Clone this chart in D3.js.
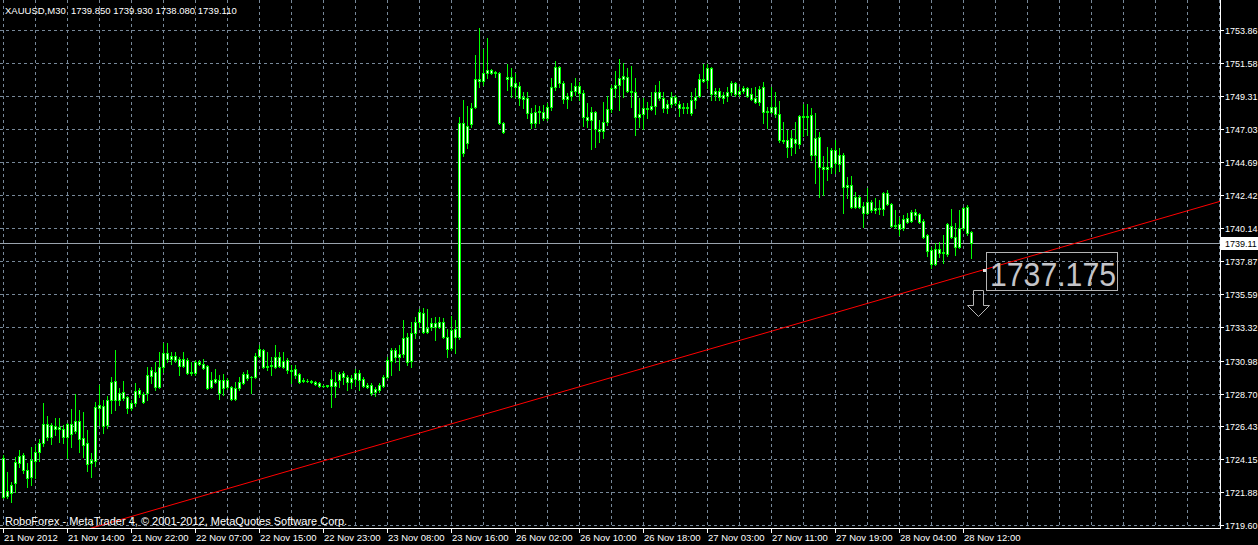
<!DOCTYPE html>
<html><head><meta charset="utf-8">
<script src="https://cdn.jsdelivr.net/npm/d3@7/dist/d3.min.js"></script>
<style>html,body{margin:0;padding:0;background:#000;overflow:hidden}svg{display:block}</style>
</head><body><svg id="c" width="1258" height="545"></svg>
<script>
// ---------- DATA ----------
const titleText = "XAUUSD,M30  1739.850 1739.930 1738.080 1739.110";
const copyrightText = "RoboForex - MetaTrader 4, \u00a9 2001-2012, MetaQuotes Software Corp.";
const timeLabels = ["21 Nov 2012","21 Nov 14:00","21 Nov 22:00","22 Nov 07:00","22 Nov 15:00","22 Nov 23:00","23 Nov 08:00","23 Nov 16:00","26 Nov 02:00","26 Nov 10:00","26 Nov 18:00","27 Nov 03:00","27 Nov 11:00","27 Nov 19:00","28 Nov 04:00","28 Nov 12:00"];
const barsPerLabel = 16;
const barsPerGrid = 8;
const priceTicks = [1753.86,1751.58,1749.31,1747.03,1744.69,1742.42,1740.14,1737.87,1735.59,1733.32,1730.98,1728.70,1726.43,1724.15,1721.88,1719.60];
const bidPrice = 1739.11;
const trendAnchors = [[26,1719.70],[304,1741.98]]; // [bar index, price]
const labelBar = 245;
const labelValue = "1737.175";
// [open, high, low, close] per M30 bar
const candles = [
[1724.25,1724.45,1721.48,1721.55],[1721.62,1723.27,1721.48,1721.97],[1721.83,1722.58,1721.20,1722.38],[1722.52,1724.31,1721.89,1723.96],[1723.90,1724.80,1723.62,1724.38],
[1724.45,1724.59,1723.20,1723.41],[1723.41,1723.90,1722.24,1722.86],[1722.93,1725.00,1722.38,1724.10],[1724.03,1725.14,1722.86,1724.66],[1724.66,1725.56,1724.03,1725.28],
[1725.28,1728.05,1725.07,1726.59],[1726.59,1727.14,1725.49,1725.70],[1725.70,1726.66,1725.21,1726.52],[1726.45,1727.01,1725.83,1726.25],[1726.25,1727.01,1725.35,1726.39],
[1726.25,1726.52,1725.28,1725.70],[1725.70,1726.66,1724.25,1726.59],[1726.59,1727.64,1725.00,1725.90],[1726.11,1728.67,1725.97,1726.80],[1726.80,1727.56,1724.66,1725.56],
[1725.63,1727.42,1724.31,1725.14],[1725.28,1726.18,1723.34,1723.82],[1723.90,1724.59,1722.93,1724.10],[1724.03,1728.12,1723.68,1727.78],[1727.70,1729.29,1726.52,1727.91],
[1727.84,1728.26,1725.97,1726.45],[1726.52,1728.54,1726.32,1728.26],[1728.26,1729.85,1727.35,1729.50],[1729.57,1731.72,1727.56,1728.26],[1728.26,1729.09,1727.91,1728.74],
[1728.81,1729.57,1728.26,1728.40],[1728.46,1728.54,1727.35,1727.70],[1727.70,1728.26,1727.56,1728.05],[1728.05,1729.43,1727.84,1728.88],[1728.95,1729.09,1728.46,1728.67],
[1728.67,1728.81,1728.05,1728.12],[1728.74,1730.55,1728.26,1729.98],[1729.92,1730.55,1729.43,1730.33],[1730.19,1730.89,1728.95,1729.16],[1729.16,1731.58,1729.09,1730.55],
[1730.55,1732.20,1730.19,1731.51],[1731.51,1732.20,1730.89,1731.10],[1731.10,1731.58,1730.75,1731.31],[1731.31,1731.58,1730.89,1731.03],[1731.10,1731.24,1729.98,1730.62],
[1730.62,1731.58,1730.55,1731.10],[1731.03,1731.17,1730.05,1730.12],[1730.12,1730.89,1729.98,1730.19],[1730.12,1731.03,1729.98,1730.89],[1730.89,1731.03,1730.68,1730.75],
[1730.75,1731.10,1730.40,1730.47],[1730.62,1730.68,1729.02,1729.09],[1729.16,1730.19,1729.09,1729.64],[1729.50,1730.40,1729.43,1729.71],[1729.64,1729.98,1728.33,1728.74],
[1729.09,1730.05,1728.60,1729.64],[1729.64,1729.78,1729.02,1729.16],[1729.16,1729.23,1728.26,1728.33],[1728.33,1729.50,1728.26,1729.09],[1729.09,1729.85,1728.95,1729.50],
[1729.43,1730.19,1729.36,1730.05],[1730.05,1730.33,1729.64,1729.78],[1729.85,1729.92,1728.74,1729.82],[1729.85,1731.51,1729.78,1731.31],[1731.31,1732.06,1731.24,1731.79],
[1731.72,1731.79,1730.47,1730.55],[1730.55,1731.58,1730.33,1730.62],[1730.62,1731.24,1729.98,1730.68],[1730.55,1732.06,1730.47,1731.24],[1731.24,1731.58,1730.55,1730.62],
[1730.55,1731.58,1730.47,1730.96],[1731.03,1731.17,1730.12,1730.33],[1730.33,1730.68,1729.43,1730.26],[1730.40,1730.68,1729.78,1729.98],[1730.05,1730.12,1729.43,1729.50],
[1729.64,1729.78,1729.50,1729.57],[1729.57,1729.71,1729.50,1729.57],[1729.57,1729.64,1729.43,1729.50],[1729.50,1729.57,1729.29,1729.36],[1729.43,1729.50,1729.16,1729.23],
[1729.23,1729.29,1729.16,1729.23],[1729.23,1729.29,1729.16,1729.29],[1729.23,1730.33,1727.78,1729.71],[1729.50,1730.19,1728.46,1729.23],[1729.64,1730.19,1729.16,1730.05],
[1729.85,1730.26,1729.36,1730.12],[1729.85,1729.98,1728.95,1729.50],[1729.50,1729.98,1729.09,1729.78],[1729.71,1730.40,1729.29,1730.12],[1730.12,1730.33,1728.95,1729.64],
[1729.71,1729.85,1729.16,1729.23],[1729.29,1729.43,1729.09,1729.16],[1729.29,1729.43,1728.60,1728.74],[1728.81,1729.16,1728.54,1729.02],[1728.95,1729.43,1728.81,1729.29],
[1729.23,1729.98,1729.16,1729.85],[1729.85,1731.24,1729.78,1731.03],[1730.96,1731.86,1729.98,1731.72],[1731.72,1731.86,1730.89,1731.24],[1731.24,1732.06,1730.33,1731.44],
[1731.44,1733.79,1731.24,1732.55],[1732.62,1732.90,1730.68,1730.89],[1730.96,1733.65,1730.55,1732.90],[1732.90,1733.99,1732.55,1733.65],[1733.65,1734.56,1733.31,1734.35],
[1734.28,1734.63,1732.90,1732.97],[1732.97,1734.56,1732.90,1733.24],[1733.31,1733.93,1733.10,1733.58],[1733.58,1733.99,1732.41,1733.31],[1733.31,1733.99,1733.24,1733.65],
[1733.65,1733.93,1732.55,1732.62],[1732.62,1733.17,1731.24,1731.79],[1731.86,1734.07,1731.72,1733.10],[1733.17,1733.79,1731.51,1732.62],[1732.62,1747.84,1732.48,1747.42],
[1747.42,1749.02,1745.14,1745.35],[1746.04,1748.60,1745.70,1747.21],[1747.36,1748.81,1747.15,1748.47],[1748.54,1752.13,1748.47,1750.47],[1750.47,1754.00,1749.92,1750.33],
[1750.33,1752.55,1750.06,1750.89],[1750.89,1753.31,1750.54,1751.10],[1751.10,1751.17,1750.82,1750.89],[1750.96,1751.03,1750.61,1750.89],[1750.89,1750.96,1747.36,1747.42],
[1747.42,1747.49,1746.73,1746.80],[1750.47,1751.51,1749.71,1750.61],[1750.61,1751.24,1749.22,1749.99],[1750.19,1750.89,1749.22,1749.92],[1749.99,1750.26,1748.67,1749.15],
[1749.22,1749.57,1748.47,1749.08],[1749.15,1749.57,1747.78,1748.12],[1748.12,1748.47,1747.08,1747.42],[1747.42,1748.67,1747.15,1748.19],[1748.19,1748.60,1747.42,1748.26],
[1748.19,1748.67,1747.63,1747.78],[1747.78,1748.81,1747.63,1748.53],[1748.53,1750.54,1748.33,1749.92],[1749.92,1751.72,1749.71,1751.31],[1751.31,1751.38,1749.92,1750.19],
[1750.19,1750.33,1748.81,1749.08],[1749.08,1749.50,1748.47,1749.29],[1749.29,1750.19,1749.02,1749.64],[1749.64,1750.54,1749.36,1749.99],[1749.99,1750.26,1749.02,1749.50],
[1749.50,1749.71,1747.21,1747.84],[1747.84,1748.81,1747.15,1747.63],[1747.63,1748.54,1745.63,1748.19],[1748.19,1748.26,1745.77,1747.01],[1747.01,1747.63,1746.11,1746.87],
[1746.87,1748.88,1746.39,1747.49],[1747.49,1749.29,1747.29,1748.40],[1748.40,1750.06,1748.19,1749.85],[1749.85,1751.03,1749.22,1750.06],[1750.06,1751.86,1748.33,1750.54],
[1750.47,1751.58,1749.22,1750.68],[1750.61,1751.24,1749.57,1749.64],[1749.64,1751.38,1748.54,1749.57],[1749.57,1750.54,1746.59,1747.84],[1747.84,1749.15,1747.15,1748.05],
[1748.05,1749.15,1747.01,1748.47],[1748.47,1748.88,1747.78,1748.40],[1748.40,1749.57,1748.33,1748.60],[1748.60,1750.06,1748.05,1749.57],[1749.57,1750.33,1749.02,1749.15],
[1749.15,1749.57,1748.19,1748.47],[1748.47,1749.02,1748.12,1748.74],[1748.74,1749.57,1748.54,1749.22],[1749.22,1749.36,1748.67,1748.81],[1748.74,1748.95,1747.91,1748.47],
[1748.47,1748.81,1748.12,1748.54],[1748.54,1748.81,1748.12,1748.47],[1748.12,1749.57,1747.98,1749.02],[1749.02,1749.85,1748.47,1749.22],[1749.29,1750.82,1749.22,1750.47],
[1750.47,1751.51,1750.26,1750.33],[1750.40,1751.51,1749.85,1751.24],[1751.24,1751.31,1749.02,1749.43],[1749.43,1749.85,1749.02,1749.64],[1749.64,1749.85,1749.02,1749.22],
[1749.36,1749.57,1748.81,1749.15],[1749.29,1749.92,1748.95,1749.57],[1749.57,1750.33,1749.36,1750.19],[1750.19,1750.26,1749.29,1749.43],[1749.43,1749.92,1749.29,1749.64],
[1749.64,1749.99,1749.50,1749.85],[1749.85,1749.92,1749.22,1749.29],[1749.43,1749.85,1749.02,1749.08],[1749.15,1749.92,1748.81,1748.88],[1748.88,1749.99,1748.67,1749.78],
[1749.92,1750.26,1747.42,1748.19],[1748.19,1748.54,1747.08,1748.26],[1748.19,1749.92,1748.12,1748.54],[1748.54,1749.57,1747.84,1748.05],[1748.05,1748.95,1746.11,1746.25],
[1746.25,1747.49,1746.04,1746.18],[1746.25,1746.94,1745.07,1745.77],[1745.77,1746.94,1745.21,1746.39],[1746.32,1747.49,1745.35,1746.04],[1745.97,1747.98,1745.70,1747.91],
[1747.91,1748.74,1746.53,1747.84],[1747.84,1748.74,1746.59,1747.91],[1747.98,1748.47,1744.87,1745.21],[1745.21,1748.12,1743.27,1746.39],[1746.46,1746.80,1742.31,1744.39],
[1744.39,1745.14,1742.45,1744.25],[1744.25,1745.77,1743.48,1744.39],[1744.39,1745.70,1743.97,1745.56],[1745.56,1746.25,1743.97,1744.66],[1744.59,1745.70,1744.10,1745.21],
[1745.21,1745.35,1741.20,1743.00],[1743.00,1743.69,1742.24,1743.14],[1743.14,1743.76,1741.55,1741.62],[1741.62,1742.65,1741.55,1742.31],[1742.31,1742.45,1741.55,1741.62],
[1741.69,1741.96,1740.23,1741.20],[1741.20,1742.93,1741.14,1741.96],[1741.96,1742.10,1741.27,1741.41],[1741.41,1742.24,1741.20,1741.55],[1741.55,1742.10,1741.14,1741.48],
[1741.48,1742.65,1741.07,1742.59],[1742.59,1742.79,1741.76,1741.83],[1741.83,1741.90,1740.23,1740.30],[1740.30,1741.41,1740.16,1740.37],[1740.44,1740.92,1739.68,1740.09],
[1740.16,1741.07,1740.02,1740.78],[1740.57,1741.20,1740.50,1740.85],[1740.64,1741.41,1740.57,1741.27],[1741.27,1741.48,1740.78,1741.07],[1741.14,1741.20,1740.50,1740.57],
[1740.64,1740.78,1739.47,1739.54],[1739.68,1739.75,1738.22,1738.57],[1738.64,1738.85,1737.39,1737.67],[1737.67,1739.12,1737.60,1738.71],[1738.71,1739.19,1738.15,1738.43],
[1738.43,1739.68,1737.74,1738.50],[1738.36,1740.50,1738.22,1740.44],[1740.30,1741.48,1739.47,1739.54],[1739.54,1740.50,1738.29,1738.85],[1738.85,1741.41,1738.78,1740.16],
[1740.16,1741.62,1740.02,1741.55],[1741.62,1741.76,1739.68,1739.82],[1739.85,1739.93,1738.08,1739.11]
];

// ---------- LAYOUT ----------
const W = 1258, H = 545;
const plotRight = 1220, plotBottom = 528;
const FONT = "'Liberation Sans', Arial, sans-serif";
const GRID = "#778899";

const svg = d3.select("#c");
svg.append("rect").attr("width", W).attr("height", H).attr("fill", "#000");

const x = d3.scaleLinear().domain([0, candles.length - 1]).range([3, 3 + 4 * (candles.length - 1)]);
const y = d3.scaleLinear().domain([priceTicks[priceTicks.length - 1], priceTicks[0]]).range([525, 30]);

const crisp = v => Math.round(v) + 0.5;

svg.append("defs").append("clipPath").attr("id", "plot")
  .append("rect").attr("x", 0).attr("y", 0).attr("width", plotRight).attr("height", plotBottom);

const plot = svg.append("g").attr("clip-path", "url(#plot)");

// vertical grid
const nGrid = Math.floor((plotRight - 3) / (x(barsPerGrid) - x(0))) + 1;
plot.append("g").selectAll("line").data(d3.range(nGrid)).join("line")
  .attr("x1", k => crisp(x(k * barsPerGrid))).attr("x2", k => crisp(x(k * barsPerGrid)))
  .attr("y1", 0).attr("y2", plotBottom)
  .attr("stroke", GRID).attr("stroke-width", 1).attr("stroke-dasharray", "3,3");

// horizontal grid
plot.append("g").selectAll("line").data(priceTicks).join("line")
  .attr("x1", 0).attr("x2", plotRight)
  .attr("y1", p => crisp(y(p))).attr("y2", p => crisp(y(p)))
  .attr("stroke", GRID).attr("stroke-width", 1).attr("stroke-dasharray", "3,3");

// bid line
plot.append("line").attr("x1", 0).attr("x2", plotRight)
  .attr("y1", crisp(y(bidPrice))).attr("y2", crisp(y(bidPrice)))
  .attr("stroke", "#9aa3ad").attr("stroke-width", 1);

// trend line (ray through two anchors)
const [a0, a1] = trendAnchors;
const slope = (a1[1] - a0[1]) / (a1[0] - a0[0]);
const trendAt = b => a0[1] + (b - a0[0]) * slope;
const bLeft = x.invert(0), bRight = x.invert(plotRight);
plot.append("line")
  .attr("x1", x(bLeft)).attr("y1", y(trendAt(bLeft)))
  .attr("x2", x(bRight)).attr("y2", y(trendAt(bRight)))
  .attr("stroke", "#ff0000").attr("stroke-width", 1);

// candles
const cg = plot.append("g");
candles.forEach((d, i) => {
  const [o, h, l, c] = d;
  const cx = Math.round(x(i));
  const top = Math.round(y(Math.max(o, c)));
  const bot = Math.round(y(Math.min(o, c)));
  const yh = Math.round(y(h)), yl = Math.round(y(l));
  cg.append("rect").attr("x", cx).attr("y", yh).attr("width", 1).attr("height", Math.max(1, yl - yh + 1)).attr("fill", "#00ff00");
  cg.append("rect").attr("x", cx - 1).attr("y", top).attr("width", 3).attr("height", bot - top + 1).attr("fill", "#00ff00");
  if (bot - top > 1) {
    cg.append("rect").attr("x", cx).attr("y", top + 1).attr("width", 1).attr("height", bot - top - 1).attr("fill", "#ffffff");
  }
});

// annotation: trend value label + arrow
const ax = Math.round(x(labelBar)), ay = Math.round(y(trendAt(labelBar)));
svg.append("rect").attr("x", ax).attr("y", ay - 1).attr("width", 3).attr("height", 3).attr("fill", "#e0e0e0");
svg.append("rect").attr("x", ax + 3.5).attr("y", ay - 17.5).attr("width", 131).attr("height", 38)
  .attr("fill", "none").attr("stroke", "#b4b4b4").attr("stroke-width", 1);
svg.append("text").attr("x", ax + 7).attr("y", ay + 16)
  .attr("font-family", FONT).attr("font-size", 34).attr("fill", "#c4c4c8")
  .attr("textLength", 126).attr("lengthAdjust", "spacingAndGlyphs")
  .text(labelValue);
svg.append("path")
  .attr("d", `M${ax - 9.5},${ay + 20.5} H${ax + 0.5} V${ay + 35.5} H${ax + 6.5} L${ax - 4.5},${ay + 46.5} L${ax - 15.5},${ay + 35.5} H${ax - 9.5} Z`)
  .attr("fill", "none").attr("stroke", "#b4b4b4").attr("stroke-width", 1);

// axes
svg.append("line").attr("x1", plotRight + 0.5).attr("x2", plotRight + 0.5).attr("y1", 0).attr("y2", plotBottom + 1)
  .attr("stroke", "#fff");
svg.append("line").attr("x1", 0).attr("x2", plotRight + 1).attr("y1", plotBottom + 0.5).attr("y2", plotBottom + 0.5)
  .attr("stroke", "#fff");

// price axis ticks + labels
const ya = svg.append("g");
ya.selectAll("line").data(priceTicks).join("line")
  .attr("x1", plotRight + 1).attr("x2", plotRight + 4)
  .attr("y1", p => crisp(y(p))).attr("y2", p => crisp(y(p))).attr("stroke", "#fff");
ya.selectAll("text").data(priceTicks).join("text")
  .attr("x", plotRight + 5).attr("y", p => Math.round(y(p)) + 4)
  .attr("font-family", FONT).attr("font-size", 9).attr("fill", "#fff")
  .text(p => p.toFixed(2));

// bid tag
const by = Math.round(y(bidPrice));
svg.append("rect").attr("x", plotRight + 1).attr("y", by - 6).attr("width", W - plotRight).attr("height", 13).attr("fill", "#fff");
svg.append("text").attr("x", plotRight + 5).attr("y", by + 4)
  .attr("font-family", FONT).attr("font-size", 9).attr("fill", "#000").text(bidPrice.toFixed(2));

// time axis
const xa = svg.append("g");
xa.selectAll("line").data(timeLabels).join("line")
  .attr("x1", (t, k) => crisp(x(k * barsPerLabel))).attr("x2", (t, k) => crisp(x(k * barsPerLabel)))
  .attr("y1", plotBottom + 1).attr("y2", plotBottom + 5).attr("stroke", "#fff");
xa.selectAll("text").data(timeLabels).join("text")
  .attr("x", (t, k) => Math.round(x(k * barsPerLabel)) + 1).attr("y", 541)
  .attr("font-family", FONT).attr("font-size", 9.5).attr("fill", "#fff")
  .text(t => t);

// texts
svg.append("text").attr("x", 5).attr("y", 14).attr("font-family", FONT).attr("font-size", 9.5)
  .attr("fill", "#fff").attr("xml:space", "preserve").style("white-space", "pre").text(titleText);
svg.append("text").attr("x", 5).attr("y", 525).attr("font-family", FONT).attr("font-size", 11)
  .attr("fill", "#fff").text(copyrightText);
</script>
</body></html>
